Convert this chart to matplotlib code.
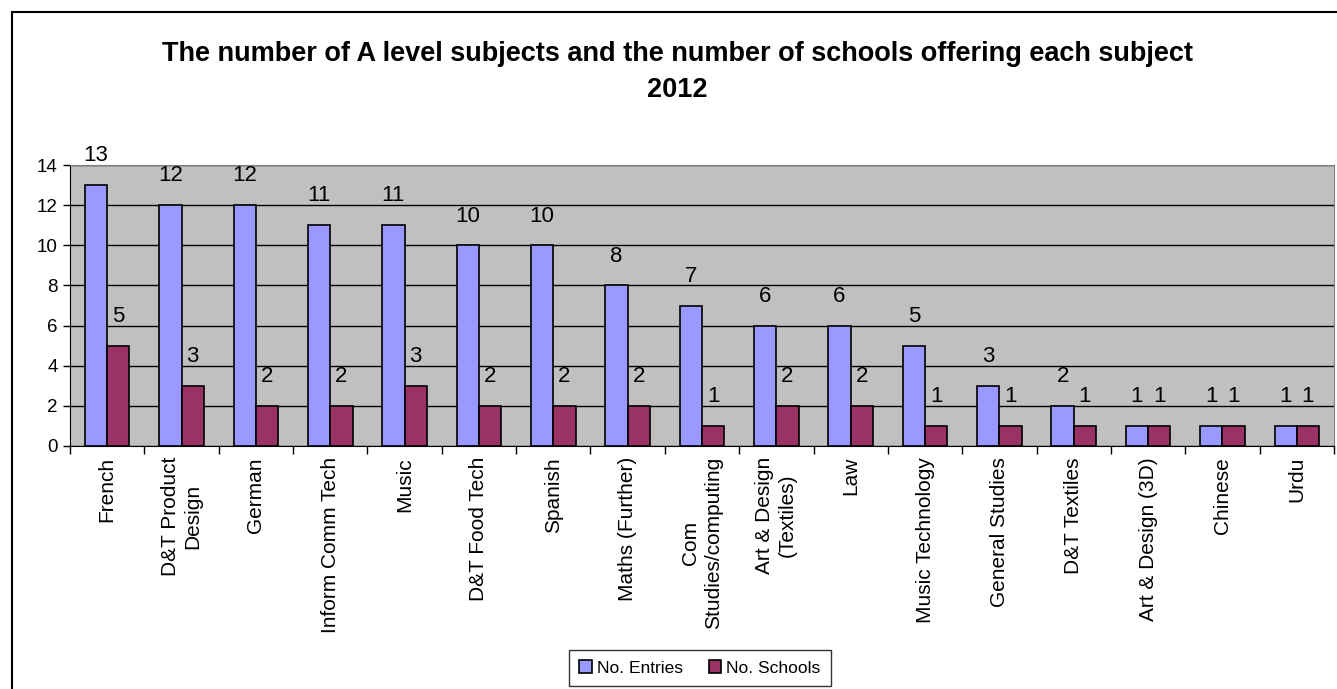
import numpy as np
import matplotlib.pyplot as plt
from matplotlib.patches import Rectangle

plt.rcParams['font.family'] = ['Liberation Sans', 'DejaVu Sans']

subjects = ['French', 'D&T Product\nDesign', 'German', 'Inform Comm Tech', 'Music',
            'D&T Food Tech', 'Spanish', 'Maths (Further)', 'Com\nStudies/computing',
            'Art & Design\n(Textiles)', 'Law', 'Music Technology', 'General Studies',
            'D&T Textiles', 'Art & Design (3D)', 'Chinese', 'Urdu']
entries = [13, 12, 12, 11, 11, 10, 10, 8, 7, 6, 6, 5, 3, 2, 1, 1, 1]
schools = [5, 3, 2, 2, 3, 2, 2, 2, 1, 2, 2, 1, 1, 1, 1, 1, 1]

fig = plt.figure(figsize=(13.37, 6.89), dpi=100)
ax = fig.add_axes([70 / 1337, 1 - 446 / 689, 1264 / 1337, 281 / 689])

# outer chart border
fig.patches.append(Rectangle((12 / 1337, -0.05), 1.1, 1 - 12 / 689 + 0.05,
                             transform=fig.transFigure, fill=False,
                             edgecolor='black', linewidth=1.5))

idx = np.arange(len(subjects))
w = 0.3
b1 = ax.bar(idx - w / 2, entries, w, color='#9999FF', edgecolor='black',
            linewidth=1.2, label='No. Entries', zorder=3)
b2 = ax.bar(idx + w / 2, schools, w, color='#993366', edgecolor='black',
            linewidth=1.2, label='No. Schools', zorder=3)

for rects, vals in ((b1, entries), (b2, schools)):
    for r, v in zip(rects, vals):
        ax.annotate(str(v), (r.get_x() + r.get_width() / 2, v),
                    xytext=(0, 13.5), textcoords='offset points',
                    ha='center', va='bottom', fontsize=16, zorder=4)

ax.set_facecolor('#C0C0C0')
ax.set_xlim(-0.5, len(subjects) - 0.5)
ax.set_ylim(0, 14)
ax.set_yticks(range(0, 15, 2))
ax.grid(axis='y', color='black', linewidth=1.0, zorder=1)
ax.set_axisbelow(True)

ax.set_xticks(idx)
ax.set_xticklabels(subjects, rotation=90, fontsize=15, ha='center',
                   va='top', multialignment='center', linespacing=1.25)
ax.set_xticks(np.arange(-0.5, len(subjects)), minor=True)
ax.tick_params(axis='x', which='major', length=0, pad=8)
ax.tick_params(axis='x', which='minor', length=6, width=1, color='black')
ax.tick_params(axis='y', length=5, width=1, labelsize=13.5, pad=4)

for side in ('top', 'right'):
    ax.spines[side].set_color('#808080')
ax.spines['left'].set_color('black')
ax.spines['bottom'].set_color('black')

fig.text(677 / 1337, 1 - 61 / 689,
         'The number of A level subjects and the number of schools offering each subject',
         ha='center', va='baseline', fontsize=19.5, fontweight='bold')
fig.text(677 / 1337, 1 - 97 / 689, '2012', ha='center', va='baseline',
         fontsize=19.5, fontweight='bold')

leg = fig.legend(handles=[b1, b2], loc='center',
                 bbox_to_anchor=(700 / 1337, 1 - 668 / 689), ncol=2,
                 fontsize=12.5, frameon=True, fancybox=False,
                 handlelength=0.7, handleheight=0.7, handletextpad=0.3,
                 columnspacing=1.5, borderpad=0.6)
leg.get_frame().set_edgecolor('black')
leg.get_frame().set_linewidth(1)

fig.savefig('out.png', dpi=100)
